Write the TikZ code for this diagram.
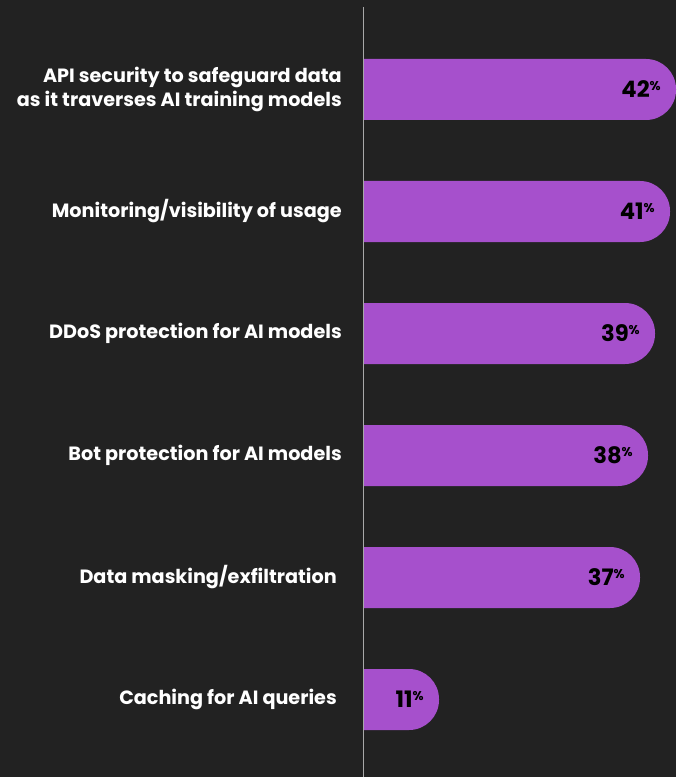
\documentclass[tikz,border=0pt]{standalone}
\usepackage{fontspec}
\setmainfont{Poppins}
\usepackage{tikz}
\usetikzlibrary{positioning}
\definecolor{bgdark}{HTML}{222222}
\definecolor{barpurple}{HTML}{A650CC}
\definecolor{axisgray}{HTML}{A8A8A8}
\tikzset{%
	bar label/.style={
		anchor=east,
		align=right,
		text=white,
		font=\fontsize{14.4}{18}\selectfont\bfseries,
		inner sep=0pt
	},
	bar value/.style={
		anchor=east,
		text=black,
		font=\fontsize{17}{20}\selectfont\bfseries,
		inner sep=0pt
	},
}
\newcommand{\pct}[1]{#1\raisebox{0.6ex}{\fontsize{9.5}{10}\selectfont\%}}

\begin{document}
\begin{tikzpicture}[x=0.75pt,y=-0.75pt]
	% Background
	\fill[bgdark] (0,0) rectangle (676,777);
	\useasboundingbox (0,0) rectangle (676,777);
	
	% Draw the bars
	\foreach \i/\top/\xe/\v/\lx/\txt in {%
		1/59/676/42/342/{API security to safeguard data\\as it traverses AI training models},
		2/181/670/41/342/{Monitoring/visibility of usage},
		3/303/655/39/342/{DDoS protection for AI models},
		4/425/648/38/342/{Bot protection for AI models},
		5/547/640/37/337/{Data masking/exfiltration},
		6/669/439/11/337/{Caching for AI queries}}
	{
		\fill[barpurple] (363,\top) [rounded corners=22.5pt] -- (\xe,\top) -- (\xe,\top+61) [sharp corners] -- (363,\top+61) -- cycle;
		\node[bar label] (lbl\i) at (\lx,\top+30.5) {\txt};
		\node[bar value] (val\i) at (\xe-15,\top+30.5) {\pct{\v}};
	}
	
	% Draw the axis
	\coordinate (axtop) at (363.5,7);
	\coordinate (axbot) at (363.5,777);
	\draw[axisgray, line width=1.1pt] (axtop) -- (axbot);
\end{tikzpicture}
\end{document}
